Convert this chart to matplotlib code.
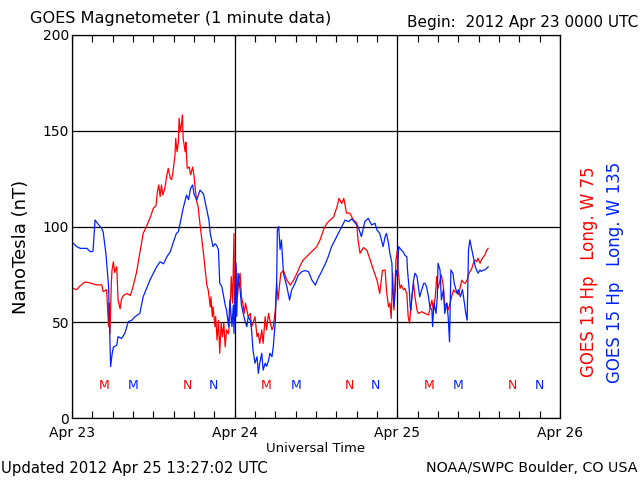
import matplotlib
matplotlib.use("Agg")
import matplotlib.pyplot as plt
from matplotlib.ticker import MultipleLocator

# hours since 2012 Apr 23 00:00 UTC, field in nT
g13_hours = [0.1, 0.7, 1.2, 1.9, 2.7, 3.6, 4.4, 4.6, 5.1, 5.4, 5.5, 5.6, 5.8, 5.9,
             6.1, 6.3, 6.6, 6.8, 7.1, 7.3, 7.6, 8.1, 8.6, 8.8, 9.0, 9.5, 10.0, 10.5,
             11.0, 11.5, 12.0, 12.4, 12.6, 12.8, 13.0, 13.2, 13.4, 13.7, 14.0, 14.2,
             14.5, 14.7, 14.9, 15.2, 15.3, 15.5, 15.7, 15.8, 16.0, 16.2, 16.3, 16.4,
             16.7, 16.8, 17.0, 17.3, 17.5, 17.8, 18.0, 18.2, 18.4, 18.6, 18.9,
             19.2, 19.4, 19.6, 19.9, 20.1, 20.4, 20.5, 20.7, 20.8, 21.1, 21.2, 21.4,
             21.6, 21.8, 22.0, 22.2, 22.4, 22.6, 22.8, 23.1, 23.3, 23.5, 23.7, 23.8,
             23.9, 24.0, 24.2, 24.4, 24.6, 24.8, 25.0, 25.2, 25.4, 25.6, 25.8, 26.0,
             26.3, 26.5, 26.7, 27.0, 27.3, 27.5, 27.7, 28.0, 28.2, 28.5, 28.7, 29.0,
             29.2, 29.5, 29.7, 30.0, 30.2, 30.4, 30.8, 31.2,
             31.7, 32.2, 32.7, 33.2, 33.6, 34.1, 34.6, 35.1, 35.6, 36.1, 36.6, 37.1,
             37.6, 38.1, 38.6, 39.1, 39.4, 39.8, 40.1, 40.5, 41.0, 41.5, 42.0, 42.2,
             42.5, 43.0, 43.5, 44.0, 44.5, 45.0, 45.4, 45.8,
             46.2, 46.4, 46.7, 46.9, 47.1, 47.3, 47.5, 47.8, 48.0, 48.1, 48.4, 48.6,
             48.9, 49.1, 49.4, 49.6, 49.8, 50.0, 50.2, 50.4, 50.6, 50.9, 51.1, 51.6,
             52.1, 52.6, 53.1, 53.3, 53.6, 53.8, 54.0, 54.3, 54.5, 54.8, 55.0, 55.3,
             55.5, 55.8, 56.0, 56.3, 56.5, 56.8, 57.0, 57.2, 57.5, 57.7, 58.0, 58.3,
             58.5, 58.7, 59.0, 59.2, 59.5, 59.7, 59.9, 60.2, 60.4, 60.7, 60.9, 61.2,
             61.4]
g13_nt = [67.7, 67, 69, 71, 70.5, 69.5, 69.5, 66, 67, 47.7, 60, 44, 70, 77,
          81.6, 76, 79, 61.6, 57, 62, 64, 65, 64, 66, 68.6, 75.7, 86, 96.4,
          100, 104.3, 109.5, 111, 118.2, 121.7, 115.6, 121.7, 116.4, 120, 127, 130.4,
          125.2, 124.5, 128.6, 137.3, 146, 139, 144, 156.5, 149.5, 154.7, 158.2, 146,
          139, 144, 130.4, 131, 127, 131, 126.5, 119, 113, 110.5, 100.8,
          92, 86, 79, 69.4, 66.8, 58, 63.3, 52.9, 58, 47.7, 53, 40.7,
          51, 33.8, 49.6, 42.5, 49.6, 37.2, 46, 44, 52.9, 73.8, 60, 79,
          96.4, 55, 79, 63.3, 72, 75.6, 63.3, 60, 54.6, 60, 56.4, 52.9,
          54.6, 47.7, 49.6, 52.9, 42.5, 44.2, 39, 46, 39, 52.9, 46, 54.6,
          51, 46, 47.7, 56.4, 70.3, 61.6, 75.6, 77,
          72, 69.4, 72, 75.6, 79, 82.5, 84.2, 86, 87.7, 89.5, 93, 98.2,
          101.7, 103.4, 105, 110.3, 114.7, 112, 114.7, 107, 107, 103.4, 102, 93,
          86, 89, 87.7, 82.5, 77, 72, 65, 77,
          77.3, 66.8, 58, 60, 52, 75.6, 56.4, 82.5, 87.7, 77.3, 67.7, 69.4,
          67, 67.7, 65, 52.9, 49.4, 58, 65, 70.3, 63.3, 56.4, 54.6, 55.5,
          54.6, 53.8, 61.6, 56.4, 63.3, 73.8, 67.7, 72, 74.7, 68.6, 58, 60,
          56.4, 60, 63.3, 67, 65.8, 66, 64.5, 67, 72, 71, 70.3, 72,
          74.7, 76.4, 78.2, 80.8, 82.5, 81.6, 83.4, 80.8, 82.5, 84.2, 85, 87.7,
          88.6]

g15_hours = [0.1, 0.7, 1.2, 2.2, 2.7, 3.1, 3.4, 3.9, 4.4, 4.6, 5.0, 5.4, 5.5, 5.7,
             5.9, 6.1, 6.6, 6.8, 7.3, 7.8, 8.3, 8.8, 9.3, 10.0, 10.5, 11.0, 11.5,
             12.0, 12.5, 13.0, 13.5, 14.0, 14.5, 14.9, 15.4, 15.7, 16.0, 16.4, 16.9,
             17.2, 17.5, 17.8, 18.0, 18.4, 18.6, 18.9, 19.4, 19.9,
             20.2, 20.4, 20.6, 20.8, 21.1, 21.3, 21.6, 21.8, 22.1, 22.3, 22.6, 22.8,
             23.1, 23.3, 23.6, 23.8, 23.9, 24.2, 24.3, 24.5, 24.8, 25.0, 25.3, 25.5,
             25.8, 26.0, 26.3, 26.5, 26.7, 27.0, 27.3, 27.5, 27.7, 28.0, 28.2, 28.5,
             28.7, 29.0, 29.2, 29.5, 29.7, 30.0, 30.2, 30.3, 30.5, 30.7, 30.9, 31.2,
             31.7, 32.1, 32.4, 32.9, 33.4, 33.9, 34.4, 34.9, 35.4, 35.9, 36.3, 36.8,
             37.3, 37.8, 38.3, 38.8, 39.3, 39.8, 40.3, 40.8, 41.3, 41.8, 42.2, 42.7,
             43.2, 43.7, 44.2, 44.7, 45.0, 45.4, 45.9,
             46.2, 46.4, 46.7, 46.9, 47.2, 47.3, 47.5, 47.7, 47.8, 48.0, 48.2, 48.6,
             48.9, 49.1, 49.4, 49.5, 49.8, 49.9, 50.0, 50.2, 50.4, 50.6, 50.9, 51.1,
             51.3, 51.6, 51.9, 52.1, 52.3, 52.6, 52.8, 53.1, 53.2, 53.4, 53.7, 53.9,
             54.0, 54.3, 54.5, 54.8, 55.0, 55.3, 55.5, 55.7, 55.9, 56.2, 56.4, 56.8,
             57.0, 57.3, 57.6, 57.9, 58.1, 58.3, 58.5, 58.7, 59.0, 59.2, 59.5, 59.7,
             59.9, 60.2, 60.4, 60.7, 60.9, 61.2, 61.4]
g15_nt = [91.5, 89.5, 88.6, 88.6, 86.8, 87, 103.4, 101, 99, 97, 86, 68.6, 52.9, 26.8,
          33, 37, 38, 42.5, 41.5, 44.2, 50.3, 51, 52.9, 54.6, 63.3, 67.7, 72,
          75.6, 79, 81.6, 80.5, 84.2, 86.8, 91.2, 96.4, 97.3, 102.5, 109.5, 116.4,
          114, 120, 121.7, 117, 113.8, 116, 119, 117, 108.6,
          103.4, 96.4, 93, 89.5, 91, 90.3, 88, 70.3, 68.6, 65, 59, 56.4,
          47.7, 61.6, 47.7, 59, 44.2, 80.8, 53, 75.6, 67, 59, 54, 51,
          47.7, 53, 51, 46, 35.5, 28.6, 32, 23.3, 28.6, 33.8, 25, 28.6,
          27, 30, 33.8, 32, 37.2, 51, 72, 98.2, 100, 88, 93, 75.6,
          68.6, 61.6, 66.8, 70.3, 74.7, 76.4, 77, 76.4, 72, 69.4, 72.8, 76.4,
          79.9, 84.2, 89.5, 93, 96.4, 100, 103.4, 102.5, 104, 101.7, 100, 94.7,
          102.5, 104.3, 100.8, 101.7, 98.2, 96.4, 89.5,
          94.7, 96.4, 91.2, 86, 80.8, 68.6, 58, 67, 77.3, 74, 89.5, 87.7,
          86.5, 85, 84.2, 77.3, 65, 58, 56.4, 65, 72, 75.6, 74, 68.6,
          63.3, 67, 70.3, 70.3, 68.6, 63.3, 58, 56.4, 47.7, 60, 54.6, 63.3,
          80.8, 77.3, 61.6, 67, 54.6, 60, 52.9, 39.8, 77.3, 75.6, 70.3, 65,
          67, 63.3, 67, 60, 54.6, 51, 87.7, 93, 87.7, 84.2, 79, 77.3,
          75.6, 77.3, 76.5, 77.3, 77.3, 78.2, 79]

# local midnight (M) and noon (N) markers
g13_marks = [(4.7, "M"), (17.0, "N"), (28.7, "M"), (41.0, "N"), (52.7, "M"), (65.0, "N")]
g15_marks = [(9.0, "M"), (20.8, "N"), (33.0, "M"), (44.8, "N"), (57.0, "M"), (69.0, "N")]
day_labels = ["Apr 23", "Apr 24", "Apr 25", "Apr 26"]

RED = "#ff0000"
BLUE = "#0022ff"

fig = plt.figure(figsize=(6.4, 4.8), dpi=100)
ax = fig.add_axes([72 / 640, 62 / 480, 488 / 640, 383 / 480])

ax.plot(g13_hours, g13_nt, color=RED, lw=0.9)
ax.plot(g15_hours, g15_nt, color=BLUE, lw=0.9)

for h, s in g13_marks:
    ax.text(h, 17, s, color=RED, ha="center", va="center", fontsize=9)
for h, s in g15_marks:
    ax.text(h, 17, s, color=BLUE, ha="center", va="center", fontsize=9)

ax.set_xlim(0, 72)
ax.set_ylim(0, 200)
ax.set_xticks([0, 24, 48, 72])
ax.set_xticklabels(day_labels)
ax.xaxis.set_minor_locator(MultipleLocator(3))
ax.set_yticks([0, 50, 100, 150, 200])
ax.grid(True, color="black", lw=0.9)
ax.tick_params(axis="x", which="both", direction="in", top=True, length=5,
               width=0.8, labelsize=10, pad=6)
ax.tick_params(axis="y", length=0, labelsize=10, pad=2)
for sp in ax.spines.values():
    sp.set_linewidth(0.9)

fig.text(316 / 640, 1 - 449 / 480, "Universal Time", fontsize=9.5,
         va="center", ha="center")
fig.text(21 / 640, 1 - 247 / 480, "NanoTesla (nT)", fontsize=13, rotation=90,
         va="center", ha="center")

fig.text(30 / 640, 1 - 18 / 480, "GOES Magnetometer (1 minute data)", fontsize=11.6,
         va="center", ha="left")
fig.text(638 / 640, 1 - 22 / 480, "Begin:  2012 Apr 23 0000 UTC", fontsize=11,
         va="center", ha="right")
fig.text(1 / 640, 1 - 468 / 480, "Updated 2012 Apr 25 13:27:02 UTC", fontsize=10.7,
         va="center", ha="left")
fig.text(638 / 640, 1 - 468 / 480, "NOAA/SWPC Boulder, CO USA", fontsize=10.3,
         va="center", ha="right")
fig.text(589 / 640, 1 - 272 / 480, "GOES 13 Hp   Long. W 75", color=RED,
         fontsize=12, rotation=90, va="center", ha="center")
fig.text(615 / 640, 1 - 272 / 480, "GOES 15 Hp   Long. W 135", color=BLUE,
         fontsize=12, rotation=90, va="center", ha="center")

fig.savefig("out.png", dpi=100)
